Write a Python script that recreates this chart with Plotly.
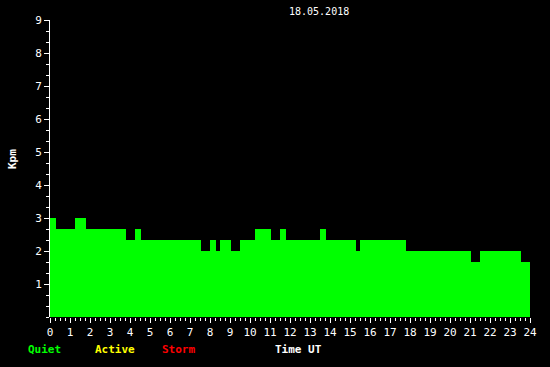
import plotly.graph_objects as go

# Step breakpoints (hours UT) and Kpm values for each interval
breaks = [0, 0.3, 1.25, 1.8, 3.8, 4.25, 4.55, 7.55, 8.0, 8.3, 8.5, 9.05, 9.5,
          10.25, 11.05, 11.5, 11.8, 13.5, 13.8, 15.3, 15.5, 17.8, 21.05, 21.5,
          23.55, 24.0]
kpm = [3.0, 2.67, 3.0, 2.67, 2.33, 2.67, 2.33, 2.0, 2.33, 2.0, 2.33, 2.0, 2.33,
       2.67, 2.33, 2.67, 2.33, 2.67, 2.33, 2.0, 2.33, 2.0, 1.67, 2.0, 1.67]
x_ticks = list(range(0, 25))
y_ticks = list(range(1, 10))
date_label = "18.05.2018"

starts = breaks[:-1]
widths = [b - a for a, b in zip(breaks[:-1], breaks[1:])]

FONT = "DejaVu Sans Mono"

fig = go.Figure()
fig.add_trace(go.Bar(x=starts, y=kpm, width=widths, offset=0,
                     marker=dict(color="#00ff00", line=dict(width=0)),
                     hoverinfo="skip"))

L, R, T, B = 50, 20, 20, 50
W, H = 550, 367
pw, ph = W - L - R, H - T - B

def px(x):
    return (x - L) / pw

def py(y):
    return (H - B - y) / ph

fig.update_layout(
    width=W, height=H,
    margin=dict(l=L, r=R, t=T, b=B, pad=0),
    paper_bgcolor="black", plot_bgcolor="black",
    showlegend=False, bargap=0,
    font=dict(family=FONT, size=11, color="white"),
    xaxis=dict(range=[0, 24], tickmode="array", tickvals=x_ticks,
               ticktext=[str(v) for v in x_ticks],
               ticks="outside", ticklen=5, tickcolor="white", tickwidth=1,
               showgrid=False, zeroline=False, showline=False,
               tickfont=dict(family=FONT, size=11, color="white"),
               minor=dict(dtick=0.25, tick0=0, ticks="outside", ticklen=3,
                          tickcolor="white", tickwidth=1, showgrid=False)),
    yaxis=dict(range=[0, 9], tickmode="array", tickvals=y_ticks,
               ticktext=[str(v) for v in y_ticks],
               ticks="outside", ticklen=5, tickcolor="white", tickwidth=1,
               showgrid=False, zeroline=False, showline=True,
               linecolor="white", linewidth=1,
               tickfont=dict(family=FONT, size=11, color="white"),
               minor=dict(dtick=1/3, tick0=0, ticks="outside", ticklen=3,
                          tickcolor="white", tickwidth=1, showgrid=False)),
)

ann = [
    (date_label, 319, 12, "white", False, 10, 0),
    ("Kpm", 12, 159, "white", True, 11, -90),
    ("Quiet", 44.5, 349, "#00ff00", True, 11, 0),
    ("Active", 114.5, 349, "#ffff00", True, 11, 0),
    ("Storm", 178, 349, "#ff0000", True, 11, 0),
    ("Time UT", 298.5, 349, "white", True, 11, 0),
]
for text, x, y, color, bold, size, angle in ann:
    fig.add_annotation(text=f"<b>{text}</b>" if bold else text,
                       x=px(x), y=py(y), xref="paper", yref="paper",
                       xanchor="center", yanchor="middle", showarrow=False,
                       textangle=angle,
                       font=dict(family=FONT, size=size, color=color))

fig.write_html("out.html")
